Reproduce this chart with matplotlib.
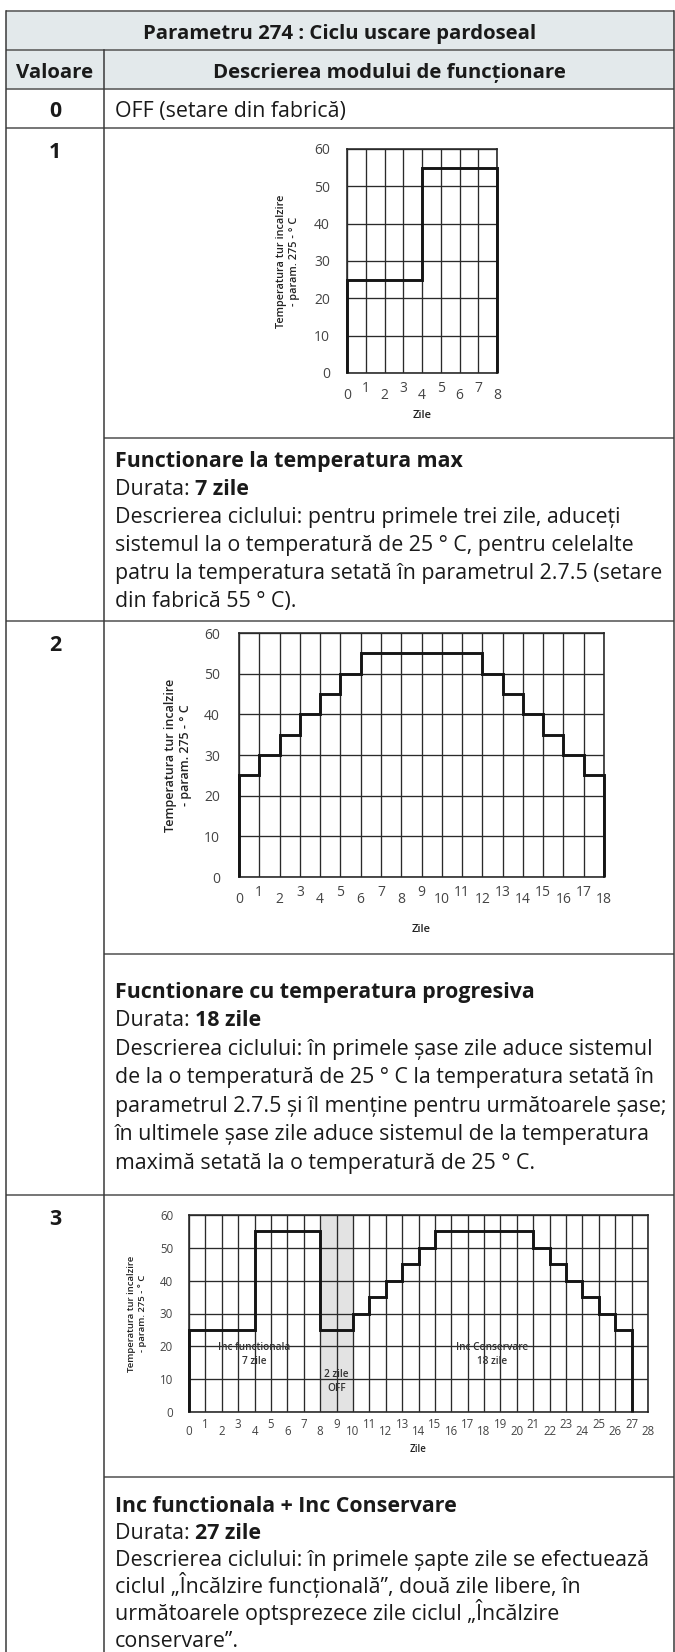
import matplotlib
matplotlib.use('Agg')
import matplotlib.pyplot as plt
import numpy as np

W, H = 675, 1652
FONT = ['Open Sans', 'DejaVu Sans']
plt.rcParams['font.family'] = FONT

# ---------------- data ----------------
y_ticks = [0, 10, 20, 30, 40, 50, 60]
chart1_values = [25, 25, 25, 25, 55, 55, 55, 55]
chart1_xmax = 8
chart2_values = [25, 30, 35, 40, 45, 50, 55, 55, 55, 55, 55, 55, 50, 45, 40, 35, 30, 25]
chart2_xmax = 18
chart3_values = [25, 25, 25, 25, 55, 55, 55, 55, 25, 25, 30, 35, 40, 45, 50,
                 55, 55, 55, 55, 55, 55, 50, 45, 40, 35, 30, 25]
chart3_xmax = 28
chart3_off_span = (8, 10)
chart3_notes = [("Inc functionala\n7 zile", 4.0, 17.5),
                ("2 zile\nOFF", 9.0, 9.3),
                ("Inc Conservare\n18 zile", 18.5, 17.5)]
y_label = "Temperatura tur incalzire\n- param. 275 - ° C"
x_label = "Zile"

title = "Parametru 274 : Ciclu uscare pardoseal"
col_headers = ["Valoare", "Descrierea modului de funcționare"]
row_values = ["0", "1", "2", "3"]
row0_text = "OFF (setare din fabrică)"
row1_lines = [[("Functionare la temperatura max", "bold")],
              [("Durata: ", "normal"), ("7 zile", "bold")],
              [("Descrierea ciclului: pentru primele trei zile, aduceți", "normal")],
              [("sistemul la o temperatură de 25 ° C, pentru celelalte", "normal")],
              [("patru la temperatura setată în parametrul 2.7.5 (setare", "normal")],
              [("din fabrică 55 ° C).", "normal")]]
row2_lines = [[("Fucntionare cu temperatura progresiva", "bold")],
              [("Durata: ", "normal"), ("18 zile", "bold")],
              [("Descrierea ciclului: în primele șase zile aduce sistemul", "normal")],
              [("de la o temperatură de 25 ° C la temperatura setată în", "normal")],
              [("parametrul 2.7.5 și îl menține pentru următoarele șase;", "normal")],
              [("în ultimele șase zile aduce sistemul de la temperatura", "normal")],
              [("maximă setată la o temperatură de 25 ° C.", "normal")]]
row3_lines = [[("Inc functionala + Inc Conservare", "bold")],
              [("Durata: ", "normal"), ("27 zile", "bold")],
              [("Descrierea ciclului: în primele șapte zile se efectuează", "normal")],
              [("ciclul „Încălzire funcțională”, două zile libere, în", "normal")],
              [("următoarele optsprezece zile ciclul „Încălzire", "normal")],
              [("conservare”.", "normal")]]

# ---------------- figure ----------------
fig = plt.figure(figsize=(W / 100, H / 100), dpi=100)
bg = fig.add_axes([0, 0, 1, 1])
bg.set_xlim(0, W)
bg.set_ylim(H, 0)
bg.axis('off')
R = fig.canvas.get_renderer()

TXT = '#1a1a1a'
LINE = '#6a6a6a'


def text_w(s, fs, weight):
    t = bg.text(0, 0, s, fontsize=fs, fontweight=weight)
    w = t.get_window_extent(renderer=R).width
    t.remove()
    return w


BODY_FS = 14 * 548 / text_w("patru la temperatura setată în parametrul 2.7.5 (setare", 14, 'normal')
HEAD_FS = BODY_FS * 0.95


def draw_line(x, yc, parts, fs=None, ha='left'):
    fs = fs or BODY_FS
    em = fs * 100 / 72
    yb = yc + 0.357 * em
    if ha == 'center':
        tot = sum(text_w(s, fs, w) for s, w in parts)
        x = x - tot / 2
    for s, w in parts:
        bg.text(x, yb, s, fontsize=fs, fontweight=w, color=TXT, ha='left', va='baseline')
        x += text_w(s, fs, w)


# table geometry (pixels)
XL, XD, XR = 6, 104, 674
Y_TOP, Y_H1, Y_H2, Y_R0 = 11, 50, 89, 128
Y_R1, Y_R2 = 621, 1195
Y_IN = [438, 954, 1477]

bg.add_patch(plt.Rectangle((XL, Y_TOP), XR - XL, Y_H2 - Y_TOP, facecolor='#e3e9eb', edgecolor='none', zorder=0))
lw = 1.3
for y in [Y_TOP, Y_H1, Y_H2, Y_R0, Y_R1, Y_R2]:
    bg.plot([XL, XR], [y, y], color=LINE, lw=lw, solid_capstyle='butt')
for y in Y_IN:
    bg.plot([XD, XR], [y, y], color=LINE, lw=lw, solid_capstyle='butt')
bg.plot([XL, XL], [Y_TOP, H], color='#3a3a3a', lw=1.1)
bg.plot([XR, XR], [Y_TOP, H], color='#3a3a3a', lw=1.1)
bg.plot([XD, XD], [Y_H1, H], color='#3a3a3a', lw=1.1)

# headers
draw_line((XL + XR) / 2, (Y_TOP + Y_H1) / 2 + 1, [(title, 'bold')], fs=HEAD_FS, ha='center')
draw_line((XL + XD) / 2, (Y_H1 + Y_H2) / 2 + 1, [(col_headers[0], 'bold')], fs=HEAD_FS, ha='center')
draw_line((XD + XR) / 2, (Y_H1 + Y_H2) / 2 + 1, [(col_headers[1], 'bold')], fs=HEAD_FS, ha='center')

# value column
for v, ytop in zip(row_values, [Y_H2, Y_R0, Y_R1, Y_R2]):
    yc = (Y_H2 + Y_R0) / 2 + 1 if v == "0" else ytop + 22
    draw_line((XL + XD) / 2, yc, [(v, 'bold')], ha='center')

TX = 115
draw_line(TX, (Y_H2 + Y_R0) / 2 + 1, [(row0_text, 'normal')])

for lines, y0, sp in [(row1_lines, 459, 28.0), (row2_lines, 990, 28.5), (row3_lines, 1504, 27.0)]:
    for i, parts in enumerate(lines):
        draw_line(TX, y0 + i * sp, parts)


# ---------------- charts ----------------
def chart(box, values, xmax, tick_fs, pads, ypad, ylab_fs, ylab_x, zile_y, zile_fs):
    x0, y0, x1, y1 = box
    ax = fig.add_axes([x0 / W, 1 - y1 / H, (x1 - x0) / W, (y1 - y0) / H])
    ax.set_xlim(0, xmax)
    ax.set_ylim(0, 60)
    edges = np.arange(len(values) + 1)
    ax.stairs(values, edges, baseline=0, color='#151515', lw=2.1, zorder=3, clip_on=False)
    evens = list(range(0, xmax + 1, 2))
    odds = list(range(1, xmax + 1, 2))
    ax.set_xticks(evens, labels=[str(v) for v in evens])
    ax.set_xticks(odds, labels=[str(v) for v in odds], minor=True)
    ax.set_yticks(y_ticks, labels=[str(v) for v in y_ticks])
    ax.grid(True, which='both', color='#2a2a2a', lw=0.95)
    ax.set_axisbelow(False)
    ax.tick_params(which='both', length=0, labelsize=tick_fs, labelcolor='#444444')
    ax.tick_params(axis='x', which='major', pad=pads[0])
    ax.tick_params(axis='x', which='minor', pad=pads[1])
    ax.tick_params(axis='y', pad=ypad)
    for s in ax.spines.values():
        s.set_color('#1a1a1a')
        s.set_linewidth(1.1)
    bg.text(ylab_x, (y0 + y1) / 2, y_label, rotation=90, ha='center', va='center',
            fontsize=ylab_fs, fontweight='semibold', color='#222222', linespacing=1.2,
            multialignment='center')
    bg.text((x0 + x1) / 2, zile_y, x_label, ha='center', va='center', fontsize=zile_fs,
            fontweight='semibold', color='#222222')
    return ax


chart((347, 149, 497, 373), chart1_values, chart1_xmax, 10, (11, 6), 12.2, 7.8, 288, 415, 8)
chart((239, 633, 604, 877), chart2_values, chart2_xmax, 10, (11, 6), 13.7, 9.0, 178, 929, 8)
ax3 = chart((189, 1215, 648, 1412), chart3_values, chart3_xmax, 8.3, (9.5, 4.5), 11.5, 6.8, 137, 1450, 7)
ax3.axvspan(*chart3_off_span, color='#e3e3e3', zorder=0, lw=0)
for txt, x, y in chart3_notes:
    ax3.text(x, y, txt, ha='center', va='center', fontsize=7.2, fontweight='semibold',
             color='#333333', linespacing=1.35, zorder=4)

fig.savefig('out.png', dpi=100)
